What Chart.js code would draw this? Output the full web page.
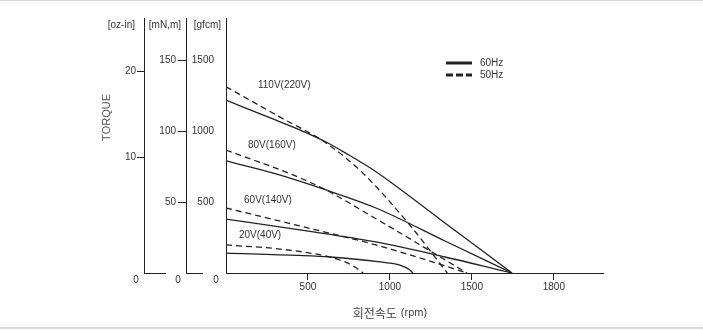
<!DOCTYPE html>
<html>
<head>
<meta charset="utf-8">
<script src="https://cdn.jsdelivr.net/npm/chart.js@4.4.0/dist/chart.umd.min.js"></script>
<style>
    html, body { margin: 0; padding: 0; background: #fff; }
    #wrap { width: 703px; height: 330px; position: relative; }
</style>
</head>
<body>
<div id="wrap"><canvas id="torqueChart"></canvas></div>
<script>
// speed (rpm) and torque (gfcm), 60Hz solid / 50Hz dashed
const speed110at60 = [0, 270, 450, 610, 725, 915, 1305, 1745];
const torque110at60 = [1220, 1095, 1010, 925, 850, 715, 380, 0];
const speed110at50 = [0, 330, 610, 835, 1120, 1350];
const torque110at50 = [1315, 1100, 918, 705, 340, 0];

const speed80at60 = [0, 305, 610, 915, 1336, 1745];
const torque80at60 = [791, 699, 586, 459, 226, 0];
const speed80at50 = [0, 409, 610, 897, 1031, 1257, 1470];
const torque80at50 = [868, 692, 586, 395, 304, 148, 0];

const speed60at60 = [0, 451, 915, 1336, 1745];
const torque60at60 = [381, 304, 219, 113, 0];
const speed60at50 = [0, 451, 915, 1183, 1470];
const torque60at50 = [459, 332, 198, 106, 0];

const speed20at60 = [0, 451, 634, 939, 1061, 1122, 1140];
const torque20at60 = [141, 124, 113, 78, 56, 21, 0];
const speed20at50 = [0, 329, 634, 726, 787, 836];
const torque20at50 = [198, 169, 113, 78, 42, 0];

// curve captions, anchored in data units (rpm, gfcm)
const curveLabels = ['110V(220V)', '80V(160V)', '60V(140V)', '20V(40V)'];
const curveLabelRpm = [195, 134, 110, 79];
const curveLabelTorque = [1327, 904, 515, 268];

// axes
const rpmTicks = [500, 1000, 1500, 2000];
const rpmTickLabels = ['500', '1000', '1500', '1800'];
const gfcmTicks = [500, 1000, 1500];
const mNmTicks = [50, 100, 150];
const ozInTicks = [10, 20];
const unitLabels = ['[oz-in]', '[mN,m]', '[gfcm]'];
const legendLabels = ['60Hz', '50Hz'];

const INK = '#222';
const TEXT = '#333';
const tickFont = { family: "'Liberation Sans', Arial, sans-serif", size: 10 };
const DASH = [6, 4];

function pairs(xs, ys) {
    return xs.map((x, i) => ({ x: x, y: ys[i] }));
}

function curve(xs, ys, dashed) {
    return {
        data: pairs(xs, ys),
        borderColor: INK,
        borderWidth: 1.3,
        borderDash: dashed ? DASH : [],
        pointRadius: 0,
        cubicInterpolationMode: 'monotone',
        fill: false,
        xAxisID: 'x',
        yAxisID: 'y'
    };
}

const plain = v => String(v);

const decorations = {
    id: 'decorations',
    beforeDraw(chart) {
        const ctx = chart.ctx;
        ctx.save();
        ctx.fillStyle = '#d9d9d9';
        ctx.fillRect(0, 0, chart.width, 1);
        ctx.fillRect(0, chart.height - 3, chart.width, 2);
        ctx.restore();
    },
    afterDraw(chart) {
        const { ctx, chartArea, scales } = chart;
        const x = scales.x, y = scales.y;
        const sideAxes = [scales.ozIn, scales.mNm, scales.y];
        ctx.save();

        // short base stubs under the two outer torque axes
        ctx.strokeStyle = INK;
        ctx.lineWidth = 1;
        ctx.beginPath();
        ctx.moveTo(scales.ozIn.right, chartArea.bottom + 0.5);
        ctx.lineTo(scales.ozIn.right + 22, chartArea.bottom + 0.5);
        ctx.moveTo(scales.mNm.right, chartArea.bottom + 0.5);
        ctx.lineTo(scales.mNm.right + 17, chartArea.bottom + 0.5);
        ctx.stroke();

        // unit headers and zero labels
        ctx.fillStyle = TEXT;
        ctx.font = "10px 'Liberation Sans', Arial, sans-serif";
        ctx.textBaseline = 'middle';
        const headOffset = [9, 5, 5];
        const zeroOffset = [8, 8, 10];
        sideAxes.forEach((s, i) => {
            ctx.textAlign = 'right';
            ctx.fillText(unitLabels[i], s.right - headOffset[i], chartArea.top + 7);
            ctx.textAlign = 'center';
            ctx.fillText('0', s.right - zeroOffset[i], chartArea.bottom + 7);
        });

        // TORQUE
        ctx.save();
        ctx.translate(scales.ozIn.left + 107, chartArea.top + (chartArea.bottom - chartArea.top) * 0.39);
        ctx.rotate(-Math.PI / 2);
        ctx.fillStyle = '#555';
        ctx.font = "11px 'Liberation Sans', Arial, sans-serif";
        ctx.textAlign = 'center';
        ctx.fillText('TORQUE', 0, 0);
        ctx.restore();

        // curve captions
        ctx.fillStyle = TEXT;
        ctx.font = "10px 'Liberation Sans', Arial, sans-serif";
        ctx.textAlign = 'left';
        curveLabels.forEach((t, i) => {
            ctx.fillText(t, x.getPixelForValue(curveLabelRpm[i]), y.getPixelForValue(curveLabelTorque[i]));
        });

        // legend
        const lx = chartArea.left + 220, ly = chartArea.top + 45;
        legendLabels.forEach((t, i) => {
            const yy = ly + i * 12;
            ctx.strokeStyle = INK;
            ctx.lineWidth = 3;
            ctx.setLineDash(i === 0 ? [] : [7, 3]);
            ctx.beginPath();
            ctx.moveTo(lx, yy);
            ctx.lineTo(lx + 26, yy);
            ctx.stroke();
            ctx.setLineDash([]);
            ctx.fillStyle = TEXT;
            ctx.fillText(t, lx + 34, yy);
        });

        // x title
        const cx = x.getPixelForValue(1000);
        const ty = chartArea.bottom + 40;
        ctx.font = "12px 'Noto Sans CJK KR', sans-serif";
        const ko = '회전속도';
        const w1 = ctx.measureText(ko).width;
        ctx.font = "11px 'Liberation Sans', Arial, sans-serif";
        const en = '(rpm)';
        const w2 = ctx.measureText(en).width;
        const start = cx - (w1 + 4 + w2) / 2;
        ctx.fillStyle = '#444';
        ctx.font = "12px 'Noto Sans CJK KR', sans-serif";
        ctx.fillText(ko, start, ty);
        ctx.font = "11px 'Liberation Sans', Arial, sans-serif";
        ctx.fillText(en, start + w1 + 4, ty);

        ctx.restore();
    }
};

new Chart(document.getElementById('torqueChart'), {
    type: 'line',
    data: {
        datasets: [
            curve(speed110at60, torque110at60, false),
            curve(speed110at50, torque110at50, true),
            curve(speed80at60, torque80at60, false),
            curve(speed80at50, torque80at50, true),
            curve(speed60at60, torque60at60, false),
            curve(speed60at50, torque60at50, true),
            curve(speed20at60, torque20at60, false),
            curve(speed20at50, torque20at50, true)
        ]
    },
    options: {
        responsive: true,
        maintainAspectRatio: false,
        animation: false,
        layout: { padding: { top: 18, right: 100, bottom: 0, left: 0 } },
        plugins: {
            legend: { display: false },
            tooltip: { enabled: false }
        },
        scales: {
            x: {
                type: 'linear',
                min: 0,
                max: 2300,
                afterBuildTicks: s => { s.ticks = rpmTicks.map(v => ({ value: v })); },
                afterFit: s => { s.height = 57; },
                grid: { drawOnChartArea: false, tickLength: 7, color: INK },
                border: { color: INK, width: 1 },
                ticks: {
                    autoSkip: false,
                    maxRotation: 0,
                    padding: 1,
                    color: TEXT,
                    font: tickFont,
                    callback: (v, i) => rpmTickLabels[i]
                }
            },
            y: {
                type: 'linear',
                position: 'left',
                weight: 0,
                min: 0,
                max: 1800,
                afterBuildTicks: s => { s.ticks = gfcmTicks.map(v => ({ value: v })); },
                afterFit: s => { s.width = 40; },
                grid: { display: false },
                border: { color: INK, width: 1 },
                ticks: { padding: 4, color: TEXT, font: tickFont, callback: plain }
            },
            mNm: {
                type: 'linear',
                position: 'left',
                weight: 1,
                min: 0,
                max: 180,
                afterBuildTicks: s => { s.ticks = mNmTicks.map(v => ({ value: v })); },
                afterFit: s => { s.width = 42; },
                grid: { drawOnChartArea: false, tickLength: 8, color: INK },
                border: { color: INK, width: 1 },
                ticks: { padding: 2, color: TEXT, font: tickFont, callback: plain }
            },
            ozIn: {
                type: 'linear',
                position: 'left',
                weight: 2,
                min: -3.5,
                max: 26.2,
                afterBuildTicks: s => { s.ticks = ozInTicks.map(v => ({ value: v })); },
                afterFit: s => { s.width = 144; },
                grid: { drawOnChartArea: false, tickLength: 7, color: INK },
                border: { color: INK, width: 1 },
                ticks: { padding: 1, color: TEXT, font: tickFont, callback: plain }
            }
        }
    },
    plugins: [decorations]
});
</script>
</body>
</html>
